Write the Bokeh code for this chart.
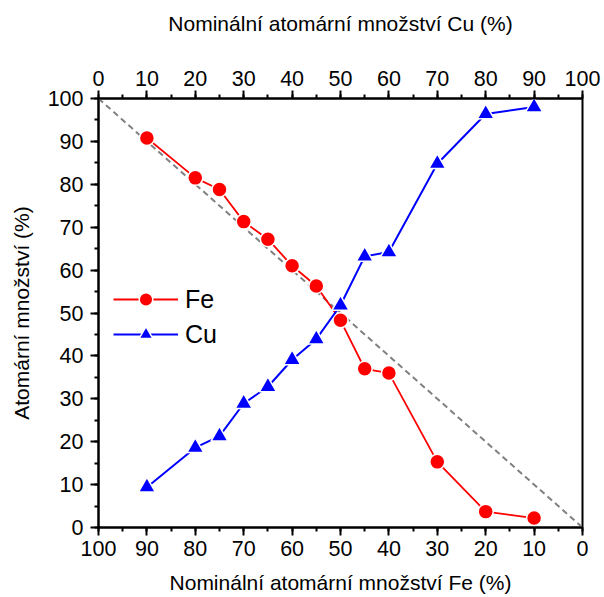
from bokeh.plotting import figure
from bokeh.models import Range1d, LinearAxis, SingleIntervalTicker, Legend, LegendItem, ColumnDataSource
from bokeh.embed import file_html
from bokeh.resources import INLINE

nominal_fe = [90, 80, 75, 70, 65, 60, 55, 50, 45, 40, 30, 20, 10]
fe_measured = [90.8, 81.5, 78.8, 71.3, 67.2, 61.0, 56.3, 48.3, 37.0, 36.0, 15.3, 3.7, 2.2]
cu_measured = [9.4, 18.6, 21.3, 28.9, 32.8, 39.1, 43.9, 51.8, 63.2, 64.2, 84.8, 96.4, 98.0]
diag_x = [100, 0]
diag_y = [100, 0]

FONT = "Liberation Sans"

p = figure(width=604, height=597, output_backend="svg", toolbar_location=None,
           x_range=Range1d(100, 0), y_range=Range1d(0, 100),
           x_axis_location=None, y_axis_location=None,
           min_border_left=98, min_border_right=22, min_border_top=98, min_border_bottom=70)
p.xgrid.visible = False
p.ygrid.visible = False
p.outline_line_color = "black"
p.outline_line_width = 2
p.background_fill_color = "white"
p.border_fill_color = "white"
p.extra_x_ranges = {"cu": Range1d(0, 100)}

def style(ax, label_standoff, title_standoff):
    ax.axis_line_width = 2
    ax.axis_line_color = "black"
    ax.major_tick_line_width = 2
    ax.minor_tick_line_width = 2
    ax.major_tick_out = 8
    ax.major_tick_in = 0
    ax.minor_tick_out = 4
    ax.minor_tick_in = 0
    ax.major_label_text_font = FONT
    ax.major_label_text_font_size = "21.5px"
    ax.major_label_text_color = "black"
    ax.axis_label_text_font = FONT
    ax.axis_label_text_font_size = "21px"
    ax.axis_label_text_font_style = "normal"
    ax.axis_label_text_color = "black"
    ax.major_label_standoff = label_standoff
    ax.axis_label_standoff = title_standoff

bottom = LinearAxis(ticker=SingleIntervalTicker(interval=10, num_minor_ticks=2),
                    axis_label="Nominální atomární množství Fe (%)")
style(bottom, 5, 12)
p.add_layout(bottom, "below")

top = LinearAxis(x_range_name="cu", ticker=SingleIntervalTicker(interval=10, num_minor_ticks=2),
                 axis_label="Nominální atomární množství Cu (%)")
style(top, 5, 33)
p.add_layout(top, "above")

left = LinearAxis(ticker=SingleIntervalTicker(interval=10, num_minor_ticks=2),
                  axis_label="Atomární množství (%)")
style(left, 7, 12)
p.add_layout(left, "left")

p.line(diag_x, diag_y, line_color="gray", line_width=2, line_dash="6 4")

src = ColumnDataSource(dict(x=nominal_fe, fe=fe_measured, cu=cu_measured))
fe_line = p.line("x", "fe", source=src, line_color="red", line_width=1.8)
fe_pts = p.scatter("x", "fe", source=src, marker="circle", size=15,
                   fill_color="red", line_color="white", line_width=1.5)
cu_line = p.line("x", "cu", source=src, line_color="blue", line_width=2)
cu_pts = p.scatter("x", "cu", source=src, marker="triangle", size=17,
                   fill_color="blue", line_color="white", line_width=1.5)

legend = Legend(items=[LegendItem(label="Fe", renderers=[fe_line, fe_pts]),
                       LegendItem(label="Cu", renderers=[cu_line, cu_pts])],
                location=(15, 176), label_text_font=FONT, label_text_font_size="25px",
                label_text_color="black",
                glyph_width=65, glyph_height=34, label_height=34, spacing=1, padding=0, margin=0,
                border_line_color=None, background_fill_alpha=0, label_standoff=7)
p.add_layout(legend, "center")

open("out.html", "w").write(file_html(p, INLINE))
